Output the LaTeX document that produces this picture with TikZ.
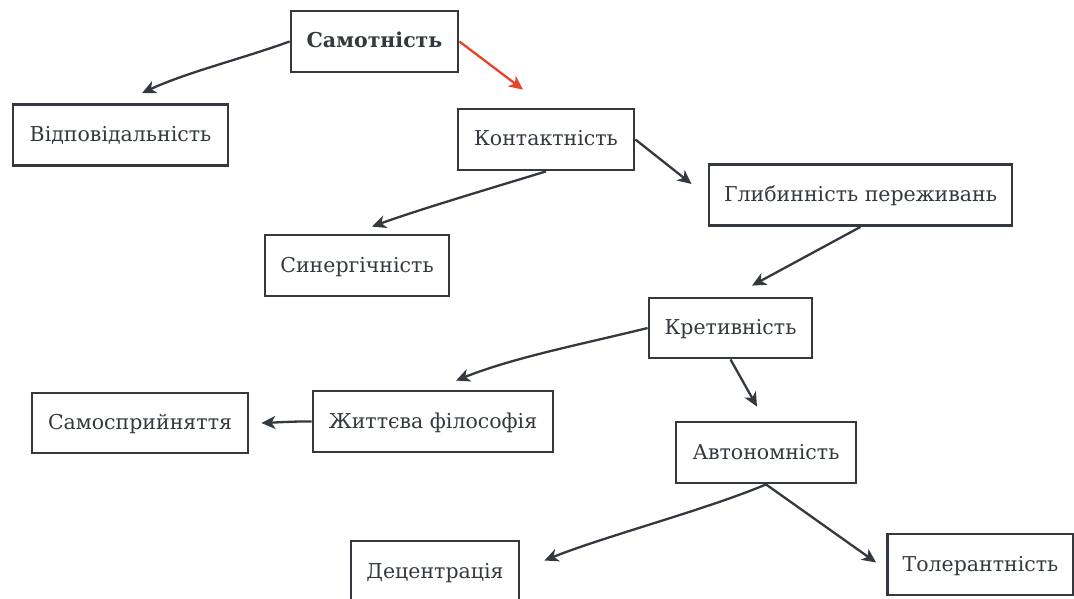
\documentclass[tikz,border=0pt]{standalone}
\usepackage{fontspec}
\setmainfont{DejaVu Serif}
\usetikzlibrary{arrows.meta,calc}
\definecolor{ink}{HTML}{33393F}
\definecolor{redline}{HTML}{E8432B}
\tikzset{
  boxfont/.style={font=\fontsize{20.5}{24}\selectfont},
  box/.style={draw=ink, line width=2.8pt, text=ink, minimum height=61pt, inner sep=0pt, text height=13pt, text depth=-1pt, boxfont},
  conn/.style={draw=ink, line width=2.3pt, -{Stealth[length=14pt,width=13pt,inset=4pt]}},
  redconn/.style={conn, draw=redline}
}
\begin{document}
\begin{tikzpicture}[x=1pt,y=-1pt]
\useasboundingbox (0,0) rectangle (1074,599);
\fill[white] (0,0) rectangle (1074,599);
\node[box, minimum width=167pt, font=\fontsize{20.5}{24}\selectfont\bfseries] (samot) at (374.5,41.5) {Самотність};
\node[box, minimum width=215pt] (vid) at (120.5,135) {Відповідальність};
\node[box, minimum width=176pt] (kont) at (546,139.5) {Контактність};
\node[box, minimum width=303pt] (glyb) at (860.5,195) {Глибинність переживань};
\node[box, minimum width=184pt] (syn) at (357,265.5) {Синергічність};
\node[box, minimum width=163pt, minimum height=60pt] (kret) at (730.5,328) {Кретивність};
\node[box, minimum width=216pt, minimum height=60pt] (samos) at (140,423) {Самосприйняття};
\node[box, minimum width=240pt] (zhytt) at (433,421.5) {Життєва філософія};
\node[box, minimum width=180pt] (avt) at (766,452.5) {Автономність};
\node[box, minimum width=168pt] (dec) at (435,571.5) {Децентрація};
\node[box, minimum width=186pt] (tol) at (980.5,564.5) {Толерантність};

\draw[conn] (samot.west) to[out=200,in=25,looseness=0.8] ([xshift=21.5pt,yshift=10pt]vid.north);
\draw[redconn] (samot.east) -- ([xshift=-23pt,yshift=18pt]kont.north);
\draw[conn] (kont.east) -- ([xshift=-16pt,yshift=11pt]glyb.west);
\draw[conn] (kont.south) to[out=197,in=20,looseness=0.7] ([xshift=15pt,yshift=7pt]syn.north);
\draw[conn] (glyb.south) -- ([xshift=21.5pt,yshift=11pt]kret.north);
\draw[conn] (kret.west) to[out=194,in=22,looseness=0.8] ([xshift=23pt,yshift=9pt]zhytt.north);
\draw[conn] (kret.south) -- ([xshift=-9pt,yshift=14pt]avt.north);
\draw[conn] (zhytt.west) to[out=178,in=2,looseness=0.6] ([xshift=12pt]samos.east);
\draw[conn] (avt.south) to[out=203,in=22,looseness=0.7] ([xshift=24pt,yshift=11pt]dec.east);
\draw[conn] (avt.south) -- ([xshift=-10pt,yshift=2pt]tol.west);
\end{tikzpicture}
\end{document}
